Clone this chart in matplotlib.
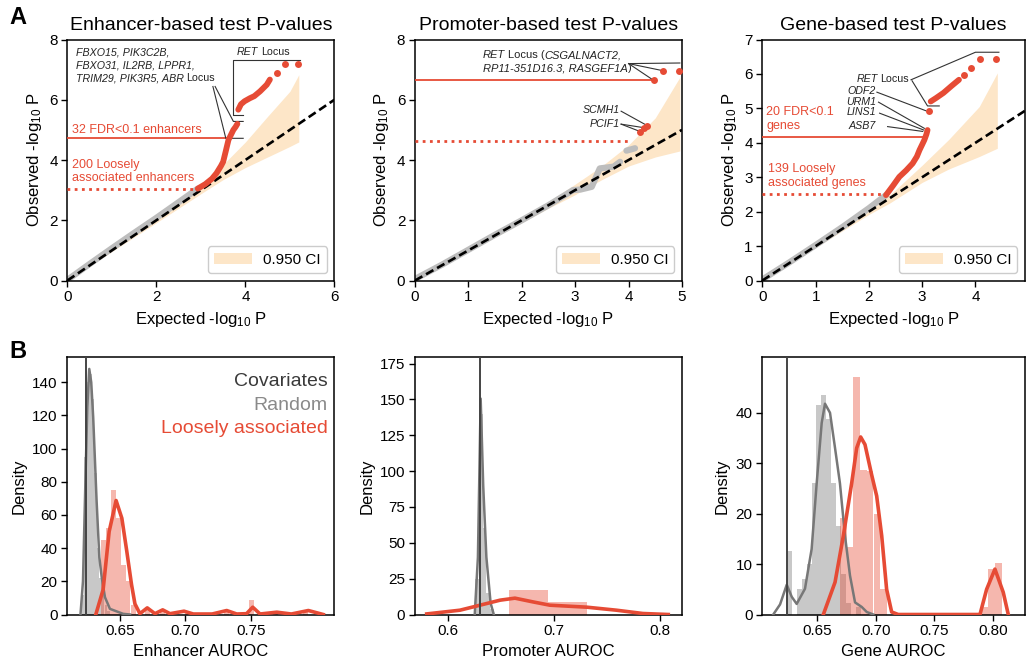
import matplotlib
matplotlib.use('Agg')
import matplotlib.pyplot as plt
from matplotlib.patches import Patch
from matplotlib.offsetbox import TextArea, HPacker, VPacker, AnnotationBbox, DrawingArea

plt.rcParams['font.family'] = ['Liberation Sans', 'DejaVu Sans']
plt.rcParams['mathtext.fontset'] = 'custom'
plt.rcParams['mathtext.rm'] = 'Liberation Sans'
plt.rcParams['mathtext.it'] = 'Liberation Sans:italic'
plt.rcParams['mathtext.bf'] = 'Liberation Sans:bold'
plt.rcParams['axes.linewidth'] = 1.1
plt.rcParams['xtick.labelsize'] = 11
plt.rcParams['ytick.labelsize'] = 11

RED = '#E64B35'
CI_COL = '#FDE6C8'
GRAY_PTS = '#BDBDBD'
ANN = '#333333'
ANN_FS = 7.7

# ---------------- Panel A data ----------------
# Enhancer
enh_gray_exp = [0.0, 0.5, 1.0, 1.5, 2.0, 2.5, 2.93]
enh_gray_obs = [0.02, 0.55, 1.07, 1.58, 2.08, 2.6, 3.05]
enh_red_exp = [2.93, 3.1, 3.25, 3.35, 3.45, 3.5, 3.56, 3.62, 3.68, 3.73, 3.78, 3.82]
enh_red_obs = [3.05, 3.2, 3.38, 3.56, 3.8, 3.94, 4.3, 4.67, 4.85, 5.0, 5.1, 5.2]
enh_ret_exp = [3.84, 3.9, 3.98, 4.1, 4.2, 4.33, 4.48, 4.55]
enh_ret_obs = [5.67, 5.85, 5.95, 6.05, 6.12, 6.28, 6.5, 6.67]
enh_top_exp = [4.7, 4.89, 5.19]
enh_top_obs = [6.89, 7.19, 7.19]
enh_ci_x = [0, 1, 2, 2.5, 3, 3.5, 4, 4.5, 5, 5.2]
enh_ci_lo = [0, 0.96, 1.92, 2.4, 2.88, 3.35, 3.75, 4.1, 4.45, 4.6]
enh_ci_hi = [0, 1.05, 2.1, 2.62, 3.15, 3.85, 4.6, 5.45, 6.28, 6.83]
enh_fdr_line = 4.72
enh_loose_line = 3.05

# Promoter
pro_gray_exp = [0.0, 0.5, 1.0, 1.5, 2.0, 2.5, 2.96, 3.1, 3.31, 3.46, 3.72, 3.84]
pro_gray_obs = [0.05, 0.52, 1.02, 1.52, 2.0, 2.5, 3.0, 3.02, 3.11, 3.72, 3.78, 3.94]
pro_gray2_exp = [3.96, 4.04, 4.12]
pro_gray2_obs = [4.31, 4.35, 4.39]
pro_red_exp = [4.21, 4.28, 4.35, 4.47, 4.65, 4.95]
pro_red_obs = [4.94, 5.06, 5.14, 6.64, 6.94, 6.94]
pro_ci_x = [0, 1, 2, 2.5, 3, 3.5, 4, 4.5, 4.96]
pro_ci_lo = [0, 0.96, 1.92, 2.4, 2.85, 3.35, 3.8, 4.1, 4.3]
pro_ci_hi = [0, 1.05, 2.1, 2.62, 3.2, 3.8, 4.5, 5.4, 6.75]
pro_fdr_line = 6.64
pro_loose_line = 4.62

# Gene
gen_gray_exp = [0.0, 0.5, 1.0, 1.5, 2.0, 2.32]
gen_gray_obs = [0.03, 0.52, 1.03, 1.55, 2.1, 2.48]
gen_red_exp = [2.32, 2.45, 2.57, 2.7, 2.82, 2.9, 2.95, 3.0, 3.04, 3.08, 3.10]
gen_red_obs = [2.48, 2.75, 3.01, 3.2, 3.40, 3.6, 3.79, 3.95, 4.08, 4.25, 4.37]
gen_odf_exp = [3.13]
gen_odf_obs = [4.91]
gen_ret_exp = [3.16, 3.26, 3.4, 3.55, 3.69]
gen_ret_obs = [5.2, 5.3, 5.45, 5.65, 5.83]
gen_top_exp = [3.79, 3.91, 4.09, 4.39]
gen_top_obs = [5.98, 6.17, 6.44, 6.44]
gen_ci_x = [0, 1, 2, 2.39, 3.0, 3.5, 4.07, 4.41]
gen_ci_lo = [0, 0.96, 1.92, 2.25, 2.85, 3.24, 3.6, 3.84]
gen_ci_hi = [0, 1.05, 2.12, 2.48, 3.35, 4.1, 5.05, 6.03]
gen_fdr_line = 4.18
gen_loose_line = 2.5

# ---------------- Panel B data ----------------
enh_vline = 0.6242
enh_gray_kde_x = [0.6200, 0.6219, 0.6236, 0.6252, 0.6267, 0.6282, 0.6297, 0.6323, 0.6344, 0.6362, 0.6387, 0.6425, 0.6526, 0.6579]
enh_gray_kde_y = [0, 20, 75, 125, 148, 140, 119, 68.7, 34.5, 22.5, 10.4, 3.4, 0.4, 0]
enh_gray_hist_left = [0.6209, 0.6228, 0.6248, 0.6267, 0.6287, 0.6306, 0.6325, 0.6345, 0.6364, 0.6384, 0.6403]
enh_gray_hist_h = [12, 95, 140, 145, 130, 85, 40, 22, 20, 6, 2]
enh_gray_bw = 0.00194
enh_red_kde_x = [0.6317, 0.6373, 0.6419, 0.6472, 0.6516, 0.6553, 0.6590, 0.6616, 0.6654, 0.6710, 0.6769, 0.6828, 0.6884,
                 0.6991, 0.7062, 0.7206, 0.7317, 0.7394, 0.7469, 0.7516, 0.7572, 0.7700, 0.7811, 0.7941, 0.8055]
enh_red_kde_y = [0, 15, 50, 68.7, 58, 38.5, 18, 6.4, 0.5, 4, 0.5, 2.8, 0.5,
                 2, 0.3, 0.3, 2.4, 0.3, 0.5, 4.4, 0.3, 1.4, 0.3, 2.4, 0]
enh_red_hist_left = [0.6356, 0.6394, 0.6432, 0.6469, 0.6507, 0.6544, 0.6583, 0.6695, 0.6808, 0.6996, 0.7297, 0.7486, 0.7674, 0.7901]
enh_red_hist_h = [45, 52, 75, 58, 30, 20, 6, 4, 3, 2, 2, 9, 1.5, 2.5]
enh_red_bw = 0.00377

pro_vline = 0.630
pro_gray_kde_x = [0.6250, 0.6280, 0.6306, 0.6330, 0.6360, 0.6400, 0.6430]
pro_gray_kde_y = [0, 40, 150.6, 90, 40, 8, 0]
pro_gray_hist_left = [0.6253, 0.6289, 0.6325, 0.6361, 0.6397]
pro_gray_hist_h = [25, 140, 60, 15, 4]
pro_gray_bw = 0.0036
pro_red_kde_x = [0.5796, 0.611, 0.630, 0.649, 0.663, 0.680, 0.696, 0.731, 0.759, 0.784, 0.808]
pro_red_kde_y = [0.4, 3, 6.5, 10, 11.4, 8.8, 6.5, 5.1, 3, 0.7, 0]
pro_red_hist_left = [0.657, 0.694]
pro_red_hist_h = [17.4, 8.4]
pro_red_bw = 0.037

gen_vline = 0.6237
gen_gray_kde_x = [0.6122, 0.6180, 0.6237, 0.6280, 0.6322, 0.6393, 0.6450, 0.6493, 0.6536, 0.6564, 0.6607, 0.6650,
                  0.6692, 0.6735, 0.6778, 0.6821, 0.6878, 0.6921, 0.6977]
gen_gray_kde_y = [0, 2, 5.9, 3.5, 2.1, 5.1, 13, 26, 38, 41.8, 40, 33, 26, 15.6, 7.7, 2.4, 1.5, 0.5, 0]
gen_gray_hist_left = [0.6237, 0.6279, 0.6322, 0.6364, 0.6407, 0.6449, 0.6491, 0.6534, 0.6576, 0.6619, 0.6661, 0.6703, 0.6746, 0.6831]
gen_gray_hist_h = [12.6, 0, 5, 7, 10, 26, 41.5, 43.5, 38.7, 26, 17.6, 8, 2.3, 1.5]
gen_gray_bw = 0.00424
gen_red_kde_x = [0.6550, 0.6650, 0.6721, 0.6792, 0.6835, 0.6869, 0.6906, 0.6963, 0.7006, 0.7049, 0.7091, 0.7134, 0.7190,
                 0.7889, 0.7946, 0.8017, 0.8088, 0.8131]
gen_red_kde_y = [0, 6.4, 15.6, 26, 33, 35.2, 33.7, 27.7, 23.5, 15.6, 5, 0.5, 0, 0, 5, 9, 4.4, 0]
gen_red_hist_left = [0.6692, 0.6749, 0.6807, 0.6864, 0.6921, 0.6979, 0.7036, 0.7903, 0.7960, 0.8017]
gen_red_hist_h = [19.2, 13.4, 47.1, 28.7, 28.5, 20, 5, 1.5, 9, 10.3]
gen_red_bw = 0.00573

# ---------------- figure ----------------
fig = plt.figure(figsize=(10.26, 6.62), dpi=100)
W, H = 1026, 662


def px_axes(l, t, r, b):
    return fig.add_axes([l / W, 1 - b / H, (r - l) / W, (b - t) / H])


axA = [px_axes(67.4, 39.5, 334.4, 280.5), px_axes(415, 39.5, 682, 280.5), px_axes(762.4, 39.5, 1025, 280.5)]
axB = [px_axes(67.4, 357.3, 334.4, 614.5), px_axes(415, 357.3, 682, 614.5), px_axes(762.4, 357.3, 1025, 614.5)]


def rich(ax, lines, xy, align='left', box_alignment=(0, 1), fontsize=ANN_FS, color='#222222'):
    """lines: list of rows; each row a list of (text, italic, space_before)."""
    space = 0.25 * fontsize
    rows = []
    for line in lines:
        parts = []
        for t, it, sp in line:
            if sp:
                parts.append(DrawingArea(space, 1))
            parts.append(TextArea(t, textprops=dict(fontsize=fontsize, color=color,
                                                    style='italic' if it else 'normal')))
        rows.append(HPacker(children=parts, align='baseline', pad=0, sep=0))
    box = VPacker(children=rows, align=align, pad=0, sep=2.2)
    ab = AnnotationBbox(box, xy, xycoords='data', box_alignment=box_alignment,
                        frameon=False, pad=0, annotation_clip=False)
    ax.add_artist(ab)


def qq_base(ax, ci_x, ci_lo, ci_hi, gray_x, gray_y, diag_max, xlim, ylim):
    ax.fill_between(ci_x, ci_lo, ci_hi, color=CI_COL, lw=0, zorder=1)
    ax.plot(gray_x, gray_y, color=GRAY_PTS, lw=4.5, solid_capstyle='round', zorder=2)
    ax.plot([0, diag_max], [0, diag_max], color='black', lw=1.9, dashes=(3.2, 1.6), zorder=4)
    ax.set_xlim(*xlim)
    ax.set_ylim(*ylim)
    ax.set_xlabel('Expected -log$_{10}$ P', fontsize=12)
    ax.set_ylabel('Observed -log$_{10}$ P', fontsize=12)
    leg = ax.legend(handles=[Patch(facecolor=CI_COL, edgecolor='none')], labels=['0.950 CI'],
                    loc='lower right', fontsize=11, handlelength=2.5, handleheight=0.8,
                    borderpad=0.4, handletextpad=0.7, framealpha=1, edgecolor='#cccccc', fancybox=True)
    leg.get_frame().set_linewidth(1.0)


def red_curve(ax, xs, ys):
    ax.plot(xs, ys, color=RED, lw=4.2, solid_capstyle='round', zorder=5)


def red_pts(ax, xs, ys):
    ax.plot(xs, ys, 'o', color=RED, ms=5, mec='none', zorder=6)


def ann_line(ax, xs, ys):
    ax.plot(xs, ys, color=ANN, lw=0.8, zorder=3)


# ---- A1 enhancer ----
ax = axA[0]
qq_base(ax, enh_ci_x, enh_ci_lo, enh_ci_hi, enh_gray_exp, enh_gray_obs, 6, (0, 6), (0, 8))
red_curve(ax, enh_red_exp, enh_red_obs)
red_curve(ax, enh_ret_exp, enh_ret_obs)
red_pts(ax, enh_top_exp, enh_top_obs)
ax.plot([0, 3.56], [enh_fdr_line] * 2, color=RED, lw=1.3, zorder=3)
ax.plot([0, 2.93], [enh_loose_line] * 2, color=RED, lw=2, ls=(0, (1, 1.6)), zorder=3)
ax.text(0.1, 5.0, '32 FDR<0.1 enhancers', color=RED, fontsize=9, va='center')
ax.text(0.1, 3.62, '200 Loosely\nassociated enhancers', color=RED, fontsize=9, va='center', linespacing=1.15)
rich(ax, [[('FBXO15, PIK3C2B,', True, False)], [('FBXO31, IL2RB, LPPR1,', True, False)],
          [('TRIM29, PIK3R5, ABR', True, False), ('Locus', False, True)]], (0.19, 7.74))
rich(ax, [[('RET', True, False), ('Locus', False, True)]], (4.4, 7.58), box_alignment=(0.5, 0.5))
ann_line(ax, [3.32, 3.73, 3.95], [6.44, 5.28, 5.28])
ann_line(ax, [3.27, 3.56, 3.95], [6.44, 4.72, 4.72])
ann_line(ax, [5.23, 3.73, 3.73, 3.95], [7.31, 7.31, 5.5, 5.5])
ax.set_xticks([0, 2, 4, 6])
ax.set_yticks([0, 2, 4, 6, 8])
ax.set_title('Enhancer-based test P-values', fontsize=14, pad=7)

# ---- A2 promoter ----
ax = axA[1]
qq_base(ax, pro_ci_x, pro_ci_lo, pro_ci_hi, pro_gray_exp, pro_gray_obs, 5, (0, 5), (0, 8))
ax.plot(pro_gray2_exp, pro_gray2_obs, color=GRAY_PTS, lw=4.5, solid_capstyle='round', zorder=2)
red_pts(ax, pro_red_exp, pro_red_obs)
ax.plot([0, 4.45], [pro_fdr_line] * 2, color=RED, lw=1.3, zorder=3)
ax.plot([0, 4.01], [pro_loose_line] * 2, color=RED, lw=2, ls=(0, (1, 1.6)), zorder=3)
rich(ax, [[('RET', True, False), ('Locus (', False, True), ('CSGALNACT2,', True, False)],
          [('RP11-351D16.3, RASGEF1A', True, False), (')', False, False)]], (1.27, 7.64), fontsize=8.0)
ax.text(3.84, 5.66, 'SCMH1', fontsize=ANN_FS, style='italic', ha='right', va='center', color='#222222')
ax.text(3.84, 5.19, 'PCIF1', fontsize=ANN_FS, style='italic', ha='right', va='center', color='#222222')
ann_line(ax, [3.86, 4.33], [5.62, 5.16])
ann_line(ax, [3.86, 4.18], [5.19, 4.97])
ann_line(ax, [3.86, 4.26], [5.19, 5.08])
ann_line(ax, [4.0, 4.96], [7.2, 7.22])
ann_line(ax, [4.0, 4.43], [7.2, 6.69])
ann_line(ax, [4.0, 4.6], [7.2, 6.98])
ax.set_xticks([0, 1, 2, 3, 4, 5])
ax.set_yticks([0, 2, 4, 6, 8])
ax.set_title('Promoter-based test P-values', fontsize=14, pad=7)

# ---- A3 gene ----
ax = axA[2]
qq_base(ax, gen_ci_x, gen_ci_lo, gen_ci_hi, gen_gray_exp, gen_gray_obs, 4.93, (0, 4.93), (0, 7))
red_curve(ax, gen_red_exp, gen_red_obs)
red_pts(ax, gen_odf_exp, gen_odf_obs)
red_curve(ax, gen_ret_exp, gen_ret_obs)
red_pts(ax, gen_top_exp, gen_top_obs)
ax.plot([0, 3.02], [gen_fdr_line] * 2, color=RED, lw=1.3, zorder=3)
ax.plot([0, 2.3], [gen_loose_line] * 2, color=RED, lw=2, ls=(0, (1, 1.6)), zorder=3)
ax.text(0.07, 4.69, '20 FDR<0.1\ngenes', color=RED, fontsize=9, va='center', linespacing=1.15)
ax.text(0.1, 3.04, '139 Loosely\nassociated genes', color=RED, fontsize=9, va='center', linespacing=1.15)
rich(ax, [[('RET', True, False), ('Locus', False, True)]], (2.75, 5.85), box_alignment=(1, 0.5))
for lab, yy in [('ODF2', 5.49), ('URM1', 5.19), ('LINS1', 4.88), ('ASB7', 4.49)]:
    ax.text(2.13, yy, lab, fontsize=ANN_FS, style='italic', ha='right', va='center', color='#222222')
ann_line(ax, [2.15, 3.07], [5.47, 4.93])
ann_line(ax, [2.18, 3.04], [5.18, 4.42])
ann_line(ax, [2.2, 3.03], [4.86, 4.37])
ann_line(ax, [2.35, 3.01], [4.47, 4.33])
ann_line(ax, [2.79, 4.0, 4.44], [5.83, 6.63, 6.63])
ann_line(ax, [2.81, 3.10, 3.32], [5.80, 5.07, 5.07])
ax.set_xticks([0, 1, 2, 3, 4])
ax.set_yticks(range(8))
ax.set_title('Gene-based test P-values', fontsize=14, pad=7)


# ---- B panels ----
def dist_panel(ax, vline, gk_x, gk_y, gh_l, gh_h, gbw, rk_x, rk_y, rh_l, rh_h, rbw, xlim, ylim, xlabel):
    ax.bar(gh_l, gh_h, width=gbw, align='edge', color='#C8C8C8', lw=0, zorder=1)
    ax.bar(rh_l, rh_h, width=rbw, align='edge', color=RED, alpha=0.4, lw=0, zorder=2)
    ax.plot(gk_x, gk_y, color='#777777', lw=1.8, zorder=3)
    ax.plot(rk_x, rk_y, color=RED, lw=2.6, zorder=4)
    ax.axvline(vline, color='#444444', lw=1.4, zorder=5)
    ax.set_xlim(*xlim)
    ax.set_ylim(*ylim)
    ax.set_xlabel(xlabel, fontsize=12)
    ax.set_ylabel('Density', fontsize=12)


dist_panel(axB[0], enh_vline, enh_gray_kde_x, enh_gray_kde_y, enh_gray_hist_left, enh_gray_hist_h, enh_gray_bw,
           enh_red_kde_x, enh_red_kde_y, enh_red_hist_left, enh_red_hist_h, enh_red_bw,
           (0.610, 0.814), (0, 155), 'Enhancer AUROC')
axB[0].set_xticks([0.65, 0.70, 0.75])
axB[0].set_xticklabels(['0.65', '0.70', '0.75'])
axB[0].set_yticks(range(0, 141, 20))
for txt, col, yy in [('Covariates', '#3A3A3A', 0.904), ('Random', '#8A8A8A', 0.814), ('Loosely associated', RED, 0.725)]:
    axB[0].text(0.976, yy, txt, color=col, fontsize=14, ha='right', va='center', transform=axB[0].transAxes)

dist_panel(axB[1], pro_vline, pro_gray_kde_x, pro_gray_kde_y, pro_gray_hist_left, pro_gray_hist_h, pro_gray_bw,
           pro_red_kde_x, pro_red_kde_y, pro_red_hist_left, pro_red_hist_h, pro_red_bw,
           (0.5685, 0.821), (0, 179.4), 'Promoter AUROC')
axB[1].set_xticks([0.6, 0.7, 0.8])
axB[1].set_yticks(range(0, 176, 25))

dist_panel(axB[2], gen_vline, gen_gray_kde_x, gen_gray_kde_y, gen_gray_hist_left, gen_gray_hist_h, gen_gray_bw,
           gen_red_kde_x, gen_red_kde_y, gen_red_hist_left, gen_red_hist_h, gen_red_bw,
           (0.6029, 0.8274), (0, 51), 'Gene AUROC')
axB[2].set_xticks([0.65, 0.70, 0.75, 0.80])
axB[2].set_xticklabels(['0.65', '0.70', '0.75', '0.80'])
axB[2].set_yticks(range(0, 41, 10))

for a in axA + axB:
    a.tick_params(length=4, width=1, pad=3)

fig.text(18 / W, 1 - 18 / H, 'A', fontsize=17, fontweight='bold', ha='center', va='center')
fig.text(18 / W, 1 - 352 / H, 'B', fontsize=17, fontweight='bold', ha='center', va='center')

fig.savefig('out.png', dpi=100)
